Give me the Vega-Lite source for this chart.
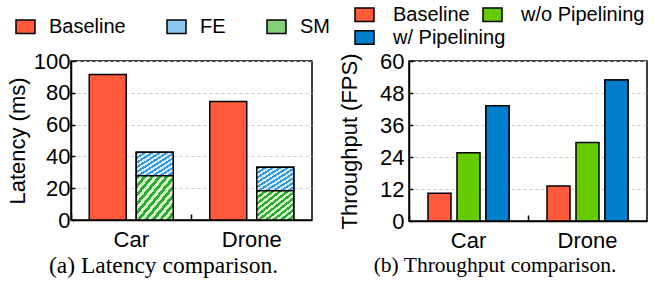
{
  "$schema": "https://vega.github.io/schema/vega-lite/v6.json",
  "padding": {"left": 5, "top": 3, "right": 0, "bottom": 0},
  "bounds": "flush",
  "spacing": 97,
  "background": "white",
  "config": {
    "font": "Liberation Sans",
    "view": {"stroke": "black", "strokeWidth": 1.5},
    "axis": {
      "labelFont": "Liberation Sans", "labelFontSize": 22, "labelColor": "black",
      "titleFont": "Liberation Sans", "titleFontSize": 22, "titleFontWeight": "normal", "titleColor": "black",
      "domainColor": "black", "domainWidth": 1.5, "tickColor": "black", "tickWidth": 1.5
    },
    "legend": {
      "labelFont": "Liberation Sans", "labelFontSize": 20, "labelColor": "black",
      "symbolType": "M-1,-0.7L1,-0.7L1,0.7L-1,0.7Z", "symbolSize": 361,
      "symbolStrokeColor": "black", "symbolStrokeWidth": 1.5, "symbolOpacity": 1
    }
  },
  "resolve": {"scale": {"color": "independent", "fill": "independent", "x": "independent", "xOffset": "independent", "y": "independent"}, "legend": {"color": "independent", "fill": "independent"}},
  "hconcat": [
    {
      "width": 241,
      "height": 159,
      "title": {"text": "(a) Latency comparison.", "orient": "bottom", "font": "Liberation Serif", "fontSize": 23.5, "fontWeight": "normal", "color": "black", "dx": -28, "offset": 4},
      "data": {"values": [
        {"cat": "Car", "grp": "Baseline", "comp": "Baseline", "v": 91.5},
        {"cat": "Car", "grp": "Ours", "comp": "SM", "v": 27.8},
        {"cat": "Car", "grp": "Ours", "comp": "FE", "v": 14.8},
        {"cat": "Drone", "grp": "Baseline", "comp": "Baseline", "v": 74.5},
        {"cat": "Drone", "grp": "Ours", "comp": "SM", "v": 18.4},
        {"cat": "Drone", "grp": "Ours", "comp": "FE", "v": 14.7}
      ]},
      "transform": [
        {"stack": "v", "groupby": ["cat", "grp"], "sort": [{"field": "comp", "order": "descending"}], "as": ["v0", "v1"]}
      ],
      "encoding": {
        "x": {"field": "cat", "type": "nominal", "scale": {"paddingInner": 0, "paddingOuter": 0},
              "axis": {"title": null, "labelAngle": 0, "bandPosition": 0, "labelOffset": 0, "tickSize": -6, "labelPadding": 15, "grid": false}},
        "xOffset": {"field": "grp", "type": "nominal", "scale": {"paddingInner": 0.213, "paddingOuter": 0.388}},
        "y": {"field": "v0", "type": "quantitative", "scale": {"domain": [0, 100], "nice": false},
              "axis": {"title": "Latency (ms)", "values": [0, 20, 40, 60, 80, 100], "grid": true, "gridDash": [3, 3], "gridColor": "#cccccc", "tickSize": -4, "labelPadding": 5, "titlePadding": 4}},
        "y2": {"field": "v1"}
      },
      "layer": [
        {
          "mark": {"type": "bar", "stroke": "black", "strokeWidth": 1.5},
          "encoding": {
            "color": {"field": "comp", "type": "nominal",
              "scale": {"domain": ["Baseline", "FE", "SM"], "range": ["#FF5A3C", "#8cc8ee", "#84cf78"]},
              "legend": {"title": null, "orient": "none", "legendX": -56, "legendY": -45, "direction": "horizontal", "columns": 3, "columnPadding": 38, "labelOffset": 13,
                "encode": {"symbols": {"update": {"stroke": {"value": "black"}, "strokeWidth": {"value": 1.5}}}}
              }
            }
          }
        },
        {
          "transform": [{"filter": "datum.comp === 'FE'"}],
          "mark": {"type": "bar", "stroke": "black", "strokeWidth": 1.5,
            "fill": {"gradient": "linear", "x1": 0, "y1": 0, "x2": 1, "y2": 1, "stops": [
              {"offset":0,"color":"#3399e6"},{"offset":0.05,"color":"#3399e6"},{"offset":0.05,"color":"#d8eeff"},{"offset":0.1,"color":"#d8eeff"},{"offset":0.1,"color":"#3399e6"},{"offset":0.15,"color":"#3399e6"},{"offset":0.15,"color":"#d8eeff"},{"offset":0.2,"color":"#d8eeff"},{"offset":0.2,"color":"#3399e6"},{"offset":0.25,"color":"#3399e6"},{"offset":0.25,"color":"#d8eeff"},{"offset":0.3,"color":"#d8eeff"},{"offset":0.3,"color":"#3399e6"},{"offset":0.35,"color":"#3399e6"},{"offset":0.35,"color":"#d8eeff"},{"offset":0.4,"color":"#d8eeff"},{"offset":0.4,"color":"#3399e6"},{"offset":0.45,"color":"#3399e6"},{"offset":0.45,"color":"#d8eeff"},{"offset":0.5,"color":"#d8eeff"},{"offset":0.5,"color":"#3399e6"},{"offset":0.55,"color":"#3399e6"},{"offset":0.55,"color":"#d8eeff"},{"offset":0.6,"color":"#d8eeff"},{"offset":0.6,"color":"#3399e6"},{"offset":0.65,"color":"#3399e6"},{"offset":0.65,"color":"#d8eeff"},{"offset":0.7,"color":"#d8eeff"},{"offset":0.7,"color":"#3399e6"},{"offset":0.75,"color":"#3399e6"},{"offset":0.75,"color":"#d8eeff"},{"offset":0.8,"color":"#d8eeff"},{"offset":0.8,"color":"#3399e6"},{"offset":0.85,"color":"#3399e6"},{"offset":0.85,"color":"#d8eeff"},{"offset":0.9,"color":"#d8eeff"},{"offset":0.9,"color":"#3399e6"},{"offset":0.95,"color":"#3399e6"},{"offset":0.95,"color":"#d8eeff"},{"offset":1,"color":"#d8eeff"}
            ]}}
        },
        {
          "transform": [{"filter": "datum.comp === 'SM'"}],
          "mark": {"type": "bar", "stroke": "black", "strokeWidth": 1.5,
            "fill": {"gradient": "linear", "x1": 0, "y1": 0, "x2": 1, "y2": 1, "stops": [
              {"offset":0,"color":"#2eaa2e"},{"offset":0.05,"color":"#2eaa2e"},{"offset":0.05,"color":"#d9f5d0"},{"offset":0.1,"color":"#d9f5d0"},{"offset":0.1,"color":"#2eaa2e"},{"offset":0.15,"color":"#2eaa2e"},{"offset":0.15,"color":"#d9f5d0"},{"offset":0.2,"color":"#d9f5d0"},{"offset":0.2,"color":"#2eaa2e"},{"offset":0.25,"color":"#2eaa2e"},{"offset":0.25,"color":"#d9f5d0"},{"offset":0.3,"color":"#d9f5d0"},{"offset":0.3,"color":"#2eaa2e"},{"offset":0.35,"color":"#2eaa2e"},{"offset":0.35,"color":"#d9f5d0"},{"offset":0.4,"color":"#d9f5d0"},{"offset":0.4,"color":"#2eaa2e"},{"offset":0.45,"color":"#2eaa2e"},{"offset":0.45,"color":"#d9f5d0"},{"offset":0.5,"color":"#d9f5d0"},{"offset":0.5,"color":"#2eaa2e"},{"offset":0.55,"color":"#2eaa2e"},{"offset":0.55,"color":"#d9f5d0"},{"offset":0.6,"color":"#d9f5d0"},{"offset":0.6,"color":"#2eaa2e"},{"offset":0.65,"color":"#2eaa2e"},{"offset":0.65,"color":"#d9f5d0"},{"offset":0.7,"color":"#d9f5d0"},{"offset":0.7,"color":"#2eaa2e"},{"offset":0.75,"color":"#2eaa2e"},{"offset":0.75,"color":"#d9f5d0"},{"offset":0.8,"color":"#d9f5d0"},{"offset":0.8,"color":"#2eaa2e"},{"offset":0.85,"color":"#2eaa2e"},{"offset":0.85,"color":"#d9f5d0"},{"offset":0.9,"color":"#d9f5d0"},{"offset":0.9,"color":"#2eaa2e"},{"offset":0.95,"color":"#2eaa2e"},{"offset":0.95,"color":"#d9f5d0"},{"offset":1,"color":"#d9f5d0"}
            ]}}
        }
      ]
    },
    {
      "width": 238,
      "height": 160,
      "title": {"text": "(b) Throughput comparison.", "orient": "bottom", "font": "Liberation Serif", "fontSize": 21.5, "fontWeight": "normal", "color": "black", "dx": -33, "offset": 4},
      "data": {"values": [
        {"cat": "Car", "series": "Baseline", "v": 10.4},
        {"cat": "Car", "series": "w/o Pipelining", "v": 25.6},
        {"cat": "Car", "series": "w/ Pipelining", "v": 43.2},
        {"cat": "Drone", "series": "Baseline", "v": 13.1},
        {"cat": "Drone", "series": "w/o Pipelining", "v": 29.4},
        {"cat": "Drone", "series": "w/ Pipelining", "v": 52.9}
      ]},
      "encoding": {
        "x": {"field": "cat", "type": "nominal", "scale": {"paddingInner": 0, "paddingOuter": 0},
              "axis": {"title": null, "labelAngle": 0, "bandPosition": 0, "labelOffset": 0, "tickSize": -6, "labelPadding": 15, "grid": false}},
        "xOffset": {"field": "series", "type": "nominal", "sort": ["Baseline", "w/o Pipelining", "w/ Pipelining"], "scale": {"domain": ["Baseline", "w/o Pipelining", "w/ Pipelining"], "paddingInner": 0.207, "paddingOuter": 0.655}},
        "y": {"field": "v", "type": "quantitative", "stack": null, "scale": {"domain": [0, 60], "nice": false},
              "axis": {"title": "Throughput (FPS)", "values": [0, 12, 24, 36, 48, 60], "grid": true, "gridDash": [3, 3], "gridColor": "#cccccc", "tickSize": -4, "labelPadding": 9, "titlePadding": 18}}
      },
      "layer": [
        {
          "mark": {"type": "bar", "stroke": "black", "strokeWidth": 1.5},
          "encoding": {
            "color": {"field": "series", "type": "nominal",
              "scale": {"domain": ["Baseline", "w/o Pipelining", "w/ Pipelining"], "range": ["#FF5A3C", "#66CC00", "#0080CC"]},
              "legend": {"title": null, "orient": "none", "legendX": -55, "legendY": -57, "direction": "horizontal", "columns": 2, "values": ["Baseline", "w/o Pipelining"], "columnPadding": 10, "labelOffset": 18,
                "encode": {"symbols": {"update": {"stroke": {"value": "black"}, "strokeWidth": {"value": 1.5}}}}}
            }
          }
        },
        {
          "transform": [{"filter": "datum.series === 'w/ Pipelining'"}],
          "mark": {"type": "bar", "stroke": "black", "strokeWidth": 1.5},
          "encoding": {
            "fill": {"field": "series", "type": "nominal",
              "scale": {"domain": ["w/ Pipelining"], "range": ["#0080CC"]},
              "legend": {"title": null, "orient": "none", "legendX": -55, "legendY": -34, "labelOffset": 18,
                "encode": {"symbols": {"update": {"stroke": {"value": "black"}, "strokeWidth": {"value": 1.5}}}}}
            }
          }
        }
      ]
    }
  ]
}
